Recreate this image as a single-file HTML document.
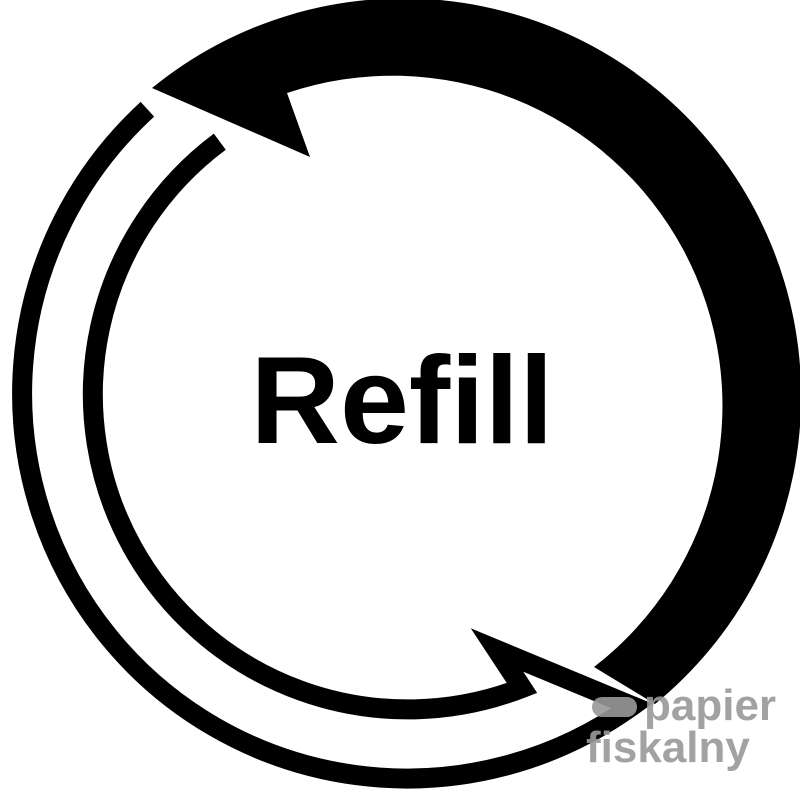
<!DOCTYPE html>
<html><head><style>html,body{margin:0;padding:0;background:#fff}svg{display:block}</style></head>
<body>
<svg width="800" height="800" viewBox="0 0 800 800" xmlns="http://www.w3.org/2000/svg">
<path d="M152 88 A397 397 0 1 1 655 704 L594 667 A330 330 0 0 0 287 93 L310 157 Z" fill="#000"/>
<path d="M219.8 141.7 A315 315 0 0 0 522 688 L497 650 L632 706 A385 385 0 0 1 147.4 109.3" fill="none" stroke="#000" stroke-width="20" stroke-linejoin="miter"/>
<text x="402" y="443" text-anchor="middle" font-family="Liberation Sans, sans-serif" font-weight="bold" font-size="124" fill="#000">Refill</text>
<g opacity="0.9">
<rect x="592" y="697" width="45" height="20" rx="10" fill="#999"/>
<text x="644" y="720" font-family="Liberation Sans, sans-serif" font-size="44" font-weight="bold" fill="#999">papier</text>
<text x="586" y="762" font-family="Liberation Sans, sans-serif" font-size="44" font-weight="bold" fill="#999">fiskalny</text>
</g>
</svg>
</body></html>
